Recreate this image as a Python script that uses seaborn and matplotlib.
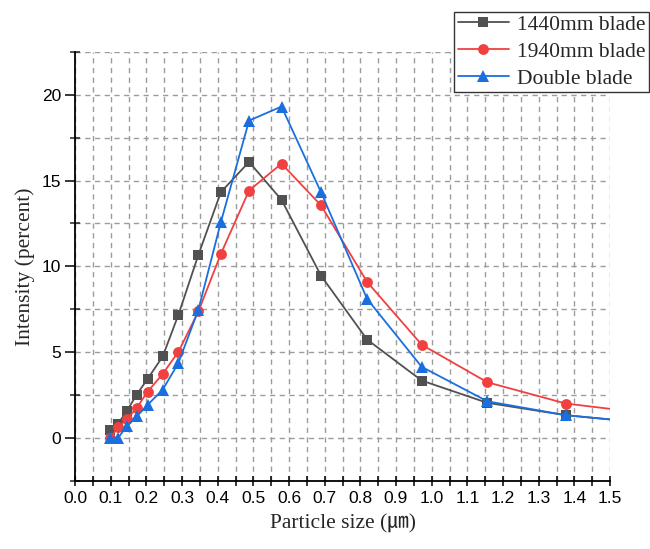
import numpy as np
import pandas as pd
import matplotlib
matplotlib.use("Agg")
import matplotlib.pyplot as plt
from matplotlib.ticker import MultipleLocator
import seaborn as sns

# Particle size bins (um) shared by all three measurements
particle_size = [0.099, 0.121, 0.145, 0.173, 0.204, 0.246, 0.290, 0.346, 0.409,
                 0.488, 0.579, 0.690, 0.819, 0.972, 1.156, 1.376, 1.637]

# Intensity distribution (percent) for each blade configuration
blade_1440 = [0.48, 0.83, 1.55, 2.52, 3.45, 4.75, 7.18, 10.67, 14.33,
              16.09, 13.88, 9.45, 5.73, 3.34, 2.04, 1.32, 0.80]
blade_1940 = [0.0, 0.62, 1.07, 1.75, 2.70, 3.73, 5.02, 7.37, 10.73,
              14.42, 15.99, 13.55, 9.09, 5.43, 3.24, 2.00, 1.35]
blade_double = [0.0, 0.0, 0.67, 1.25, 1.93, 2.81, 4.37, 7.47, 12.58,
                18.50, 19.32, 14.31, 8.10, 4.14, 2.13, 1.32, 0.80]

series_names = ["1440mm blade", "1940mm blade", "Double blade"]
series_values = [blade_1440, blade_1940, blade_double]
series_colors = ["#515151", "#F14040", "#1A6FDF"]
series_markers = ["s", "o", "^"]
series_msize = [7.0, 7.8, 8.8]

x_ticks = [round(0.1 * i, 1) for i in range(16)]
y_ticks = [0, 5, 10, 15, 20]

sns.set_style("ticks")
plt.rcParams["font.family"] = ["Liberation Sans", "DejaVu Sans"]

fig = plt.figure(figsize=(6.5, 5.49), dpi=100)
ax = fig.add_axes([75 / 650, 1 - 480.7 / 549, (610 - 75) / 650, (480.7 - 52) / 549])

for name, vals, col, mk, ms in zip(series_names, series_values, series_colors,
                                   series_markers, series_msize):
    df = pd.DataFrame({"size": particle_size, "intensity": vals})
    sns.lineplot(data=df, x="size", y="intensity", ax=ax, color=col, marker=mk,
                 markersize=ms, markeredgewidth=0, linewidth=1.3, label=name,
                 sort=False, zorder=3)

ax.set_xlim(0, 1.5)
ax.set_ylim(-2.5, 22.5)
ax.set_xticks(x_ticks)
ax.set_xticklabels([f"{v:.1f}" for v in x_ticks])
ax.set_yticks(y_ticks)
ax.xaxis.set_minor_locator(MultipleLocator(0.05))
ax.yaxis.set_minor_locator(MultipleLocator(2.5))

grid_kw = dict(color="#9c9c9c", linewidth=1.0, linestyle=(0, (3.8, 3.2)))
ax.grid(True, which="both", axis="both", **grid_kw)
ax.set_axisbelow(True)

for side in ("top", "right"):
    ax.spines[side].set_visible(False)
for side in ("left", "bottom"):
    ax.spines[side].set_linewidth(1.3)
    ax.spines[side].set_color("black")

ax.tick_params(axis="x", which="both", direction="inout", length=7, width=1.1,
               labelsize=12.5, pad=4, colors="black")
ax.tick_params(axis="y", which="major", direction="out", length=7, width=1.1,
               labelsize=12.5, pad=3, colors="black")
ax.tick_params(axis="y", which="minor", direction="inout", length=7, width=1.1)

serif = ["Liberation Serif", "Noto Sans CJK SC", "DejaVu Serif"]
ax.set_xlabel("Particle size (㎛)", fontsize=15.5, family=serif, labelpad=6)
ax.set_ylabel("Intensity (percent)", fontsize=15.5, family=serif, labelpad=5)

handles, labels = ax.get_legend_handles_labels()
leg = ax.legend(handles, labels, loc="upper right",
                bbox_to_anchor=(648.5 / 650, 1 - 11.5 / 549),
                bbox_transform=fig.transFigure, borderaxespad=0,
                prop={"family": serif, "size": 15.5}, frameon=True,
                fancybox=False, framealpha=1, edgecolor="#333333",
                handlelength=2.4, handletextpad=0.35, labelspacing=0.32,
                borderpad=0.15)
leg.get_frame().set_linewidth(1.0)

fig.savefig("out.png", dpi=100)
